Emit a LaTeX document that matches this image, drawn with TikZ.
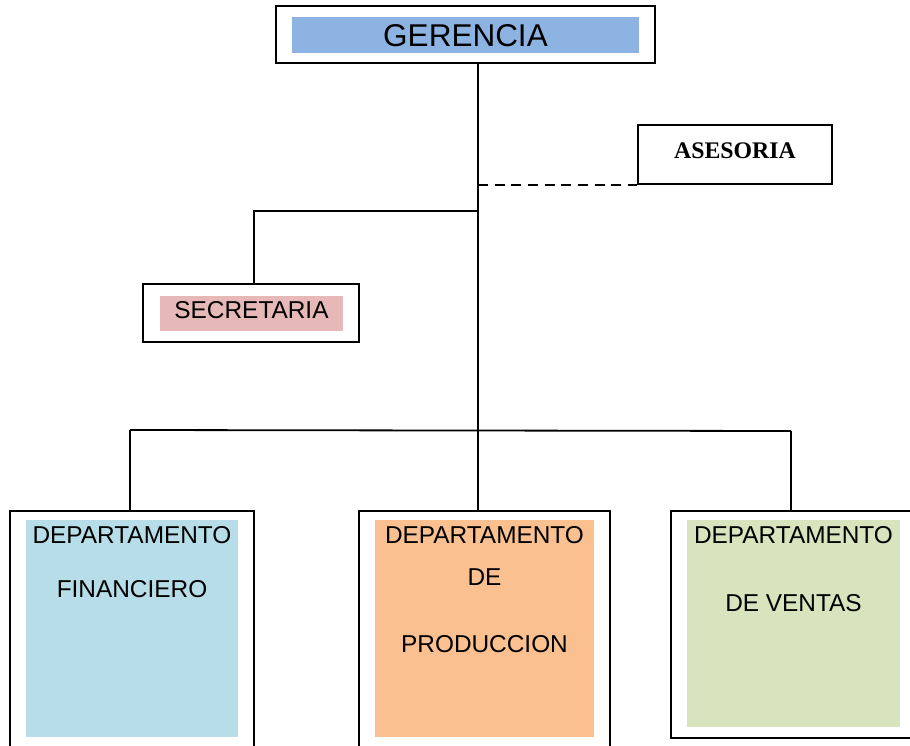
\documentclass[tikz,border=0pt]{standalone}
\usepackage{fontspec}
\setmainfont{Liberation Sans}
\newfontfamily\timesfont{Liberation Serif}
\usepackage{xcolor}
\definecolor{gerblue}{HTML}{8DB3E2}
\definecolor{secpink}{HTML}{E6B8B7}
\definecolor{finblue}{HTML}{B7DEE8}
\definecolor{prodorange}{HTML}{FAC090}
\definecolor{ventgreen}{HTML}{D7E4BD}

\begin{document}
\begin{tikzpicture}[x=1pt,y=-1pt]
		\tikzset{box/.style = {draw, line width=2.2pt, inner sep=0pt}}
		\tikzset{fillbox/.style = {inner sep=0pt}}
		\tikzset{label/.style = {inner sep=0pt, font=\fontsize{24.4}{24.4}\selectfont}}
		\tikzset{line/.style = {line width=1.8pt}}
		\tikzset{dashline/.style = {line width=2.6pt, dash pattern=on 10pt off 6.67pt}}

		\useasboundingbox (0,0) rectangle (910,746);
		\clip (0,0) rectangle (910,746);

		\node[box, minimum width=379, minimum height=57] (gerencia) at (465.5,34.5) {};
		\node[fillbox, fill=gerblue, minimum width=347, minimum height=36] (gerfill) at (465.5,35) {};
		\node[label, font=\fontsize{31.5}{31.5}\selectfont] (gertext) at (465.5,36) {GERENCIA};

		\node[box, minimum width=194, minimum height=59] (asesoria) at (735,154.5) {};
		\node[label, font=\timesfont\bfseries\fontsize{23.8}{23.8}\selectfont] (asetext) at (735,151) {ASESORIA};

		\node[box, line width=2pt, minimum width=216, minimum height=58] (secretaria) at (251,313) {};
		\node[fillbox, fill=secpink, minimum width=183, minimum height=35] (secfill) at (251.5,313.5) {};
		\node[label] (sectext) at (251.5,310) {SECRETARIA};

		\node[box, line width=1.8pt, anchor=north, minimum width=244, minimum height=250] (fin) at (132,510) {};
		\node[fillbox, fill=finblue, anchor=north, minimum width=212, minimum height=217] (finfill) at (132,520) {};
		\node[label] (fin_1) at (132,535) {DEPARTAMENTO};
		\node[label] (fin_2) at (132,589) {FINANCIERO};

		\node[box, line width=1.8pt, anchor=north, minimum width=251, minimum height=250] (prod) at (484.5,510) {};
		\node[fillbox, fill=prodorange, anchor=north, minimum width=219, minimum height=217] (prodfill) at (484.5,520) {};
		\node[label] (prod_1) at (484.5,535) {DEPARTAMENTO};
		\node[label] (prod_2) at (484.5,577) {DE};
		\node[label] (prod_3) at (484.5,644) {PRODUCCION};

		\node[box, anchor=north, minimum width=258, minimum height=227] (ventas) at (800,510) {};
		\node[fillbox, fill=ventgreen, anchor=north, minimum width=213, minimum height=207] (ventfill) at (793.5,520) {};
		\node[label] (vent_1) at (793.5,535) {DEPARTAMENTO};
		\node[label] (vent_2) at (793.5,603) {DE VENTAS};

		\coordinate (trunk) at (478,0);
		\coordinate (secjoin) at (478,211);
		\coordinate (ldrop) at (130,430);
		\coordinate (rdrop) at (791,431);

		\draw[line] (gerencia.south -| trunk) -- (prod.north -| trunk);
		\draw[dashline] (trunk |- asesoria.south) -- (asesoria.south west);
		\draw[line] (secjoin) -| ([xshift=3pt]secretaria.north);
		\draw[line] (ldrop) -- (rdrop);
		\draw[line] (ldrop) -- (ldrop |- fin.north);
		\draw[line] (rdrop) -- (rdrop |- ventas.north);
	\end{tikzpicture}
\end{document}
